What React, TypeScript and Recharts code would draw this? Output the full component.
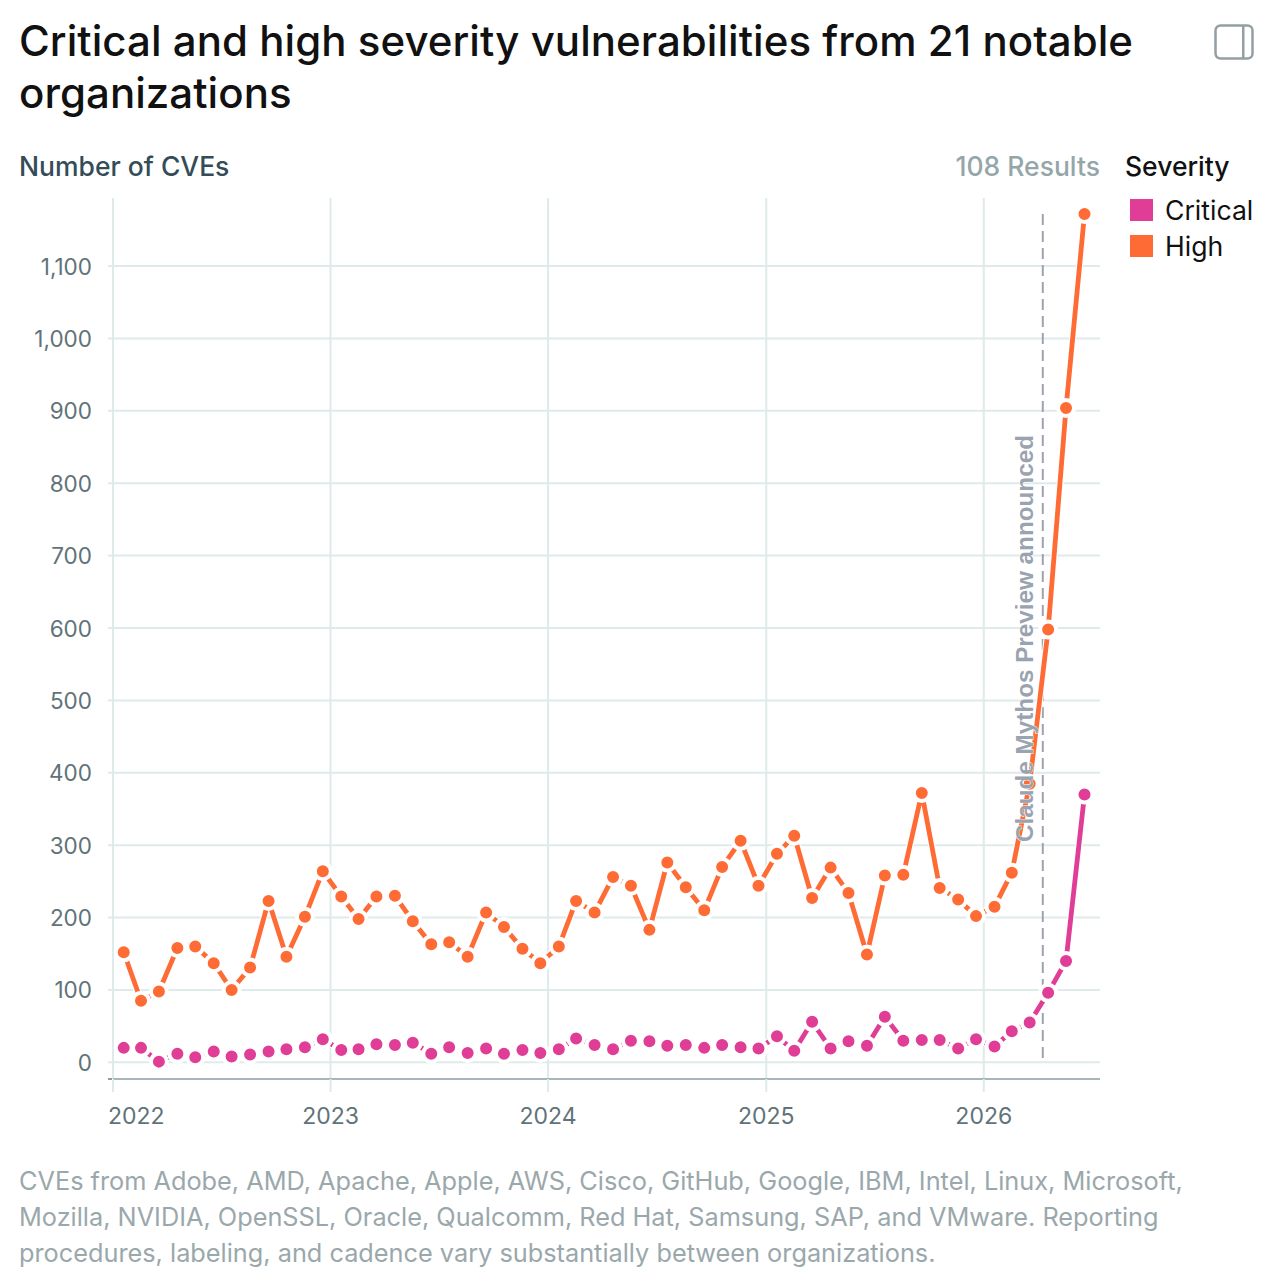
import React from 'react';
import {LineChart, Line, XAxis, YAxis, CartesianGrid, ReferenceLine} from 'recharts';

const months = [
    '2022-01-19', '2022-02-17', '2022-03-19', '2022-04-19', '2022-05-19', '2022-06-19',
    '2022-07-19', '2022-08-19', '2022-09-19', '2022-10-19', '2022-11-19', '2022-12-19',
    '2023-01-19', '2023-02-17', '2023-03-19', '2023-04-19', '2023-05-19', '2023-06-19',
    '2023-07-19', '2023-08-19', '2023-09-19', '2023-10-19', '2023-11-19', '2023-12-19',
    '2024-01-19', '2024-02-17', '2024-03-19', '2024-04-19', '2024-05-19', '2024-06-19',
    '2024-07-19', '2024-08-19', '2024-09-19', '2024-10-19', '2024-11-19', '2024-12-19',
    '2025-01-19', '2025-02-17', '2025-03-19', '2025-04-19', '2025-05-19', '2025-06-19',
    '2025-07-19', '2025-08-19', '2025-09-19', '2025-10-19', '2025-11-19', '2025-12-19',
    '2026-01-19', '2026-02-17', '2026-03-19', '2026-04-19', '2026-05-19', '2026-06-19',
];

const high = [
    152, 85, 98, 158, 160, 137, 100, 131, 223, 146, 201, 264,
    229, 198, 229, 230, 195, 163, 166, 146, 207, 187, 157, 137,
    160, 223, 207, 256, 244, 183, 276, 242, 210, 270, 306, 244,
    288, 313, 227, 269, 234, 149, 258, 259, 372, 241, 225, 202,
    215, 262, 385, 598, 904, 1172,
];

const critical = [
    20, 20, 1, 12, 7, 15, 8, 11, 15, 18, 21, 32,
    17, 18, 25, 24, 27, 12, 21, 13, 19, 12, 17, 13,
    18, 33, 24, 18, 30, 29, 23, 24, 20, 24, 21, 19,
    36, 16, 56, 19, 29, 23, 63, 30, 31, 31, 19, 32,
    22, 43, 55, 96, 140, 370,
];

const yTicks = [0, 100, 200, 300, 400, 500, 600, 700, 800, 900, 1000, 1100];
const yearTicks = ['2022-01-01', '2023-01-01', '2024-01-01', '2025-01-01', '2026-01-01'];
const announced = '2026-04-10';
const footer = [
    'CVEs from Adobe, AMD, Apache, Apple, AWS, Cisco, GitHub, Google, IBM, Intel, Linux, Microsoft,',
    'Mozilla, NVIDIA, OpenSSL, Oracle, Qualcomm, Red Hat, Samsung, SAP, and VMware. Reporting',
    'procedures, labeling, and cadence vary substantially between organizations.',
];

const toMs = (d: string) => new Date(d + 'T00:00:00Z').getTime();

const data = months.map((m, i) => ({date: toMs(m), high: high[i], critical: critical[i]}));

const FONT = 'Inter, sans-serif';
const PINK = '#e03d96';
const ORANGE = '#ff6b35';
const GRID = '#dfeaea';
const AXIS = '#8c9ca0';

const XTick = (props: any) => {
    const {x, y, payload, index} = props;
    return (
        <text x={index === 0 ? x - 5 : x} y={y + 30} textAnchor={index === 0 ? 'start' : 'middle'}
              fontSize={23} fontFamily={FONT} fill="#5f7379">
            {new Date(payload.value).getUTCFullYear()}
        </text>
    );
};

const YTick = (props: any) => {
    const {y, payload} = props;
    return (
        <text x={92} y={y + 8.5} textAnchor="end" fontSize={22.5} fontFamily={FONT} fill="#5f7379">
            {payload.value.toLocaleString('en-US')}
        </text>
    );
};

const abs = (left: number, top: number, extra: React.CSSProperties = {}): React.CSSProperties => ({
    position: 'absolute', left, top, whiteSpace: 'nowrap', fontFamily: FONT, ...extra,
});

const App = () => {
    return (
        <div style={{position: 'absolute', left: 0, top: 0, width: 1270, height: 1284, background: '#fff', overflow: 'hidden'}}>
            <div style={abs(19, 15, {fontSize: 42, fontWeight: 550, lineHeight: '52px', color: '#111', letterSpacing: '0.05px'})}>
                Critical and high severity vulnerabilities from 21 notable<br/>organizations
            </div>
            <svg style={{position: 'absolute', left: 1214, top: 24}} width={40} height={36}>
                <rect x={1.5} y={1.5} width={37} height={33} rx={5} fill="none" stroke="#939fa2" strokeWidth={2.5}/>
                <rect x={28} y={2} width={2.5} height={32} fill="#939fa2"/>
            </svg>
            <div style={abs(19, 150, {fontSize: 26.5, fontWeight: 500, lineHeight: '32px', color: '#344c57'})}>Number of CVEs</div>
            <div style={abs(900, 150, {width: 200, textAlign: 'right', fontSize: 26.5, fontWeight: 500, lineHeight: '32px', color: '#94a6a9'})}>108 Results</div>
            <div style={abs(1125, 150, {fontSize: 26.5, fontWeight: 500, lineHeight: '32px', color: '#111'})}>Severity</div>
            <div style={abs(1130, 199, {width: 23, height: 22, background: PINK})}/>
            <div style={abs(1165, 194, {fontSize: 26.6, lineHeight: '32px', color: '#111'})}>Critical</div>
            <div style={abs(1130, 235, {width: 23, height: 22, background: ORANGE})}/>
            <div style={abs(1165, 230, {fontSize: 26.6, lineHeight: '32px', color: '#111'})}>High</div>
            <div style={abs(108, 1078.25, {width: 6, height: 1.5, background: AXIS})}/>

            <div style={{position: 'absolute', left: 0, top: 0}}>
                <LineChart width={1270} height={1284} data={data}
                           margin={{top: 198, right: 170, bottom: 165, left: 20}}>
                    <CartesianGrid stroke={GRID} strokeWidth={2} syncWithTicks/>
                    <XAxis dataKey="date" type="number" domain={[toMs('2022-01-01'), toMs('2026-07-15')]}
                           ticks={yearTicks.map(toMs)} height={40} tick={<XTick/>} tickSize={13} interval={0}
                           axisLine={{stroke: AXIS, strokeWidth: 1.5}} tickLine={{stroke: GRID, strokeWidth: 2}}
                           allowDataOverflow/>
                    <YAxis type="number" domain={[-23, 1194]} ticks={yTicks} width={93} axisLine={false} interval={0}
                           tickSize={5} tickLine={{stroke: GRID, strokeWidth: 2}} allowDataOverflow
                           tick={<YTick/>}/>
                    <ReferenceLine segment={[{x: toMs(announced), y: 1172}, {x: toMs(announced), y: 0}]}
                                   stroke="#9ea3ac" strokeWidth={2} strokeDasharray="11 6"/>
                    <Line dataKey="high" stroke="#fff" strokeWidth={7} dot={false} activeDot={false} isAnimationActive={false}/>
                    <Line dataKey="critical" stroke="#fff" strokeWidth={7} dot={false} activeDot={false} isAnimationActive={false}/>
                    <Line dataKey="high" stroke={ORANGE} strokeWidth={4.8} isAnimationActive={false} activeDot={false}
                          dot={{r: 8, fill: ORANGE, stroke: '#fff', strokeWidth: 4}}/>
                    <Line dataKey="critical" stroke={PINK} strokeWidth={4.8} isAnimationActive={false} activeDot={false}
                          dot={{r: 8, fill: PINK, stroke: '#fff', strokeWidth: 4}}/>
                </LineChart>
            </div>
            <svg style={{position: 'absolute', left: 0, top: 0, pointerEvents: 'none'}} width={1270} height={1284}>
                <text transform="translate(1033,842) rotate(-90)" fontSize={24.25} fontWeight={700}
                      fontFamily="'Liberation Sans', sans-serif" fill="#9aa3b0" stroke="#fff" strokeWidth={1}
                      paintOrder="stroke">
                    Claude Mythos Preview announced
                </text>
            </svg>
            <div style={abs(19, 1163, {fontSize: 25.3, lineHeight: '36px', color: '#9aa8ab'})}>
                {footer.map(line => <div key={line}>{line}</div>)}
            </div>
        </div>
    );
};

export default App;
